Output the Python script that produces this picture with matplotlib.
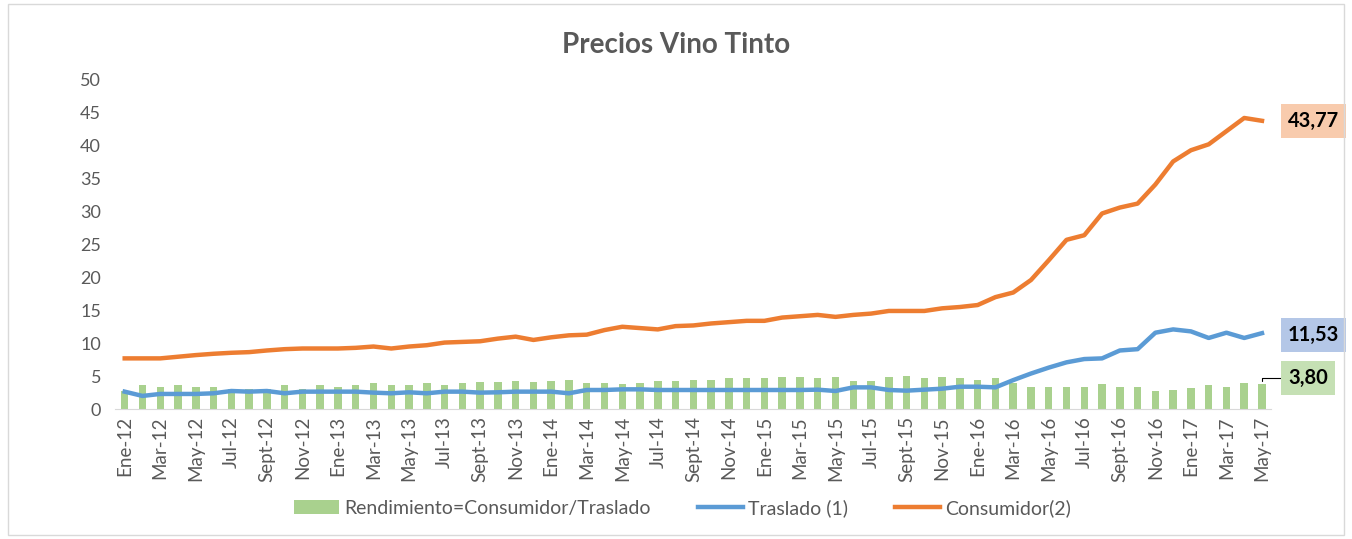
import matplotlib.pyplot as plt
from matplotlib.patches import Rectangle

# monthly series Ene-12 .. May-17
meses = ['Ene', 'Feb', 'Mar', 'Abr', 'May', 'Jun', 'Jul', 'Ago', 'Sept', 'Oct', 'Nov', 'Dic']
anios = ['12', '13', '14', '15', '16', '17']
labels = [m + '-' + a for a in anios for m in meses][:65]

consumidor = [7.7, 7.7, 7.7, 7.95, 8.2, 8.4, 8.55, 8.65, 8.9, 9.1, 9.2, 9.2,
              9.2, 9.3, 9.5, 9.2, 9.5, 9.7, 10.1, 10.2, 10.3, 10.7, 11.0, 10.5,
              10.9, 11.2, 11.3, 12.0, 12.5, 12.3, 12.1, 12.6, 12.7, 13.0, 13.2, 13.4,
              13.4, 13.9, 14.1, 14.3, 14.0, 14.3, 14.5, 14.9, 14.9, 14.9, 15.3, 15.5,
              15.8, 17.0, 17.7, 19.6, 22.6, 25.7, 26.4, 29.7, 30.6, 31.2, 34.1, 37.6,
              39.3, 40.2, 42.2, 44.2, 43.77]

traslado = [2.65, 2.0, 2.3, 2.3, 2.3, 2.4, 2.75, 2.65, 2.75, 2.4, 2.65, 2.65,
            2.65, 2.65, 2.5, 2.4, 2.55, 2.4, 2.65, 2.65, 2.5, 2.55, 2.65, 2.65,
            2.65, 2.4, 2.9, 2.9, 3.0, 3.0, 2.9, 2.9, 2.9, 2.9, 2.9, 2.9,
            2.9, 2.9, 2.9, 2.95, 2.75, 3.3, 3.3, 2.9, 2.8, 2.95, 3.1, 3.4,
            3.4, 3.3, 4.4, 5.4, 6.3, 7.1, 7.6, 7.7, 8.9, 9.1, 11.6, 12.1,
            11.8, 10.8, 11.6, 10.8, 11.53]

rendimiento = [2.7, 3.65, 3.4, 3.65, 3.4, 3.4, 3.0, 3.0, 3.0, 3.65, 3.1, 3.65,
               3.4, 3.65, 3.9, 3.65, 3.65, 3.9, 3.65, 3.9, 4.05, 4.05, 4.25, 4.05,
               4.25, 4.4, 4.0, 4.0, 3.8, 4.0, 4.25, 4.25, 4.4, 4.4, 4.65, 4.65,
               4.65, 4.9, 4.9, 4.65, 4.9, 4.25, 4.25, 4.9, 5.05, 4.65, 4.9, 4.65,
               4.4, 4.7, 3.9, 3.4, 3.4, 3.4, 3.4, 3.8, 3.4, 3.4, 2.8, 2.9,
               3.2, 3.6, 3.4, 4.0, 3.80]

plt.rcParams['font.family'] = ['Lato', 'DejaVu Sans']

fig = plt.figure(figsize=(13.52, 5.39), dpi=100)
ax = fig.add_axes([0.085, 0.241, 0.855, 0.611])
fig.patches.append(Rectangle((0.006, 0.008), 0.988, 0.984, transform=fig.transFigure,
                             fill=False, edgecolor='#d9d9d9', linewidth=1))

x = list(range(len(labels)))
bars = ax.bar(x, rendimiento, width=0.42, color='#a9d18e', label='Rendimiento=Consumidor/Traslado', zorder=2)
l1, = ax.plot(x, traslado, color='#5b9bd5', linewidth=3.2, label='Traslado (1)', zorder=3)
l2, = ax.plot(x, consumidor, color='#ed7d31', linewidth=3.2, label='Consumidor(2)', zorder=3)

ax.set_xlim(-0.55, 64.5)
ax.set_ylim(0, 50)
ax.set_yticks(range(0, 51, 5))
ax.set_xticks(x[::2])
ax.set_xticklabels(labels[::2], rotation=90, fontsize=13.5, color='#595959')
ax.tick_params(axis='y', labelsize=13, colors='#595959', length=0, pad=10)
ax.tick_params(axis='x', length=0, pad=5)
for s in ['top', 'right', 'left']:
    ax.spines[s].set_visible(False)
ax.spines['bottom'].set_color('#d9d9d9')

fig.text(0.5, 0.917, 'Precios Vino Tinto', ha='center', va='center',
         fontsize=20, fontweight='bold', color='#595959')

# data labels on the last point
last = len(labels) - 1
ax.annotate('43,77', (last, consumidor[last]), xytext=(26, 0), textcoords='offset pixels',
            ha='left', va='center', fontsize=14.5, fontweight='bold', color='black',
            bbox=dict(boxstyle='square,pad=0.35', fc='#f8cbad', ec='none'))
ax.annotate('11,53', (last, traslado[last]), xytext=(26, -2), textcoords='offset pixels',
            ha='left', va='center', fontsize=14.5, fontweight='bold', color='black',
            bbox=dict(boxstyle='square,pad=0.35', fc='#b4c7e7', ec='none'))
ax.annotate('3,80', (last, rendimiento[last]), xytext=(26, 6), textcoords='offset pixels',
            ha='left', va='center', fontsize=14.5, fontweight='bold', color='black',
            bbox=dict(boxstyle='square,pad=0.35', fc='#c5e0b4', ec='none'),
            arrowprops=dict(arrowstyle='-', color='black', lw=0.8,
                            connectionstyle='angle,angleA=0,angleB=90,rad=0',
                            shrinkA=0, shrinkB=2))

leg = fig.legend([bars, l1, l2], ['Rendimiento=Consumidor/Traslado', 'Traslado (1)', 'Consumidor(2)'],
                 loc='center', bbox_to_anchor=(0.505, 0.058), ncol=3, frameon=False,
                 fontsize=14, handlelength=2.3, handletextpad=0.3, columnspacing=2.4)
for t in leg.get_texts():
    t.set_color('#595959')

fig.savefig('out.png', dpi=100)
